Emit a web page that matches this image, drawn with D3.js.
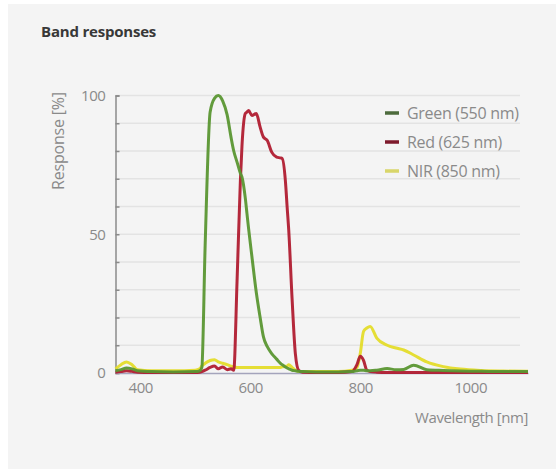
<!DOCTYPE html>
<html>
<head>
<meta charset="utf-8">
<script src="https://cdn.jsdelivr.net/npm/d3@7"></script>
<style>
  html, body { margin: 0; padding: 0; background: #ffffff; }
  svg { display: block; font-family: "Open Sans", "DejaVu Sans", sans-serif; }
</style>
</head>
<body>
<svg id="chart" width="556" height="476"></svg>
<script>
// ---- data ----
const wavelengths = [355, 365, 375, 385, 395, 420, 460, 500, 508, 512, 518, 527, 535, 542, 550, 558, 565, 570, 576, 582, 585, 591, 594, 597, 603, 611, 618, 624, 631, 639, 648, 655, 658, 664, 667, 670, 676, 682, 688, 695, 720, 760, 785, 794, 800, 806, 812, 818, 830, 849, 865, 879, 897, 921, 951, 982, 1020, 1060, 1105];
const greenValues = [0.8, 1.2, 1.8, 1.5, 0.8, 0.5, 0.4, 0.5, 0.8, 2, 46, 94, 99, 100, 98, 93, 85, 80, 76, 72, 70.6, 63, 57.5, 52, 42, 29, 20, 13, 9.5, 7, 5, 3.5, 3, 2.2, 1.8, 1.5, 1, 0.8, 0.6, 0.5, 0.4, 0.4, 0.5, 0.8, 1, 1, 0.8, 0.8, 1, 1.6, 1.2, 1.3, 2.8, 1.2, 0.9, 0.7, 0.6, 0.5, 0.5];
const redValues = [0.3, 0.5, 0.8, 0.6, 0.3, 0.2, 0.2, 0.2, 0.3, 0.5, 1.0, 2.0, 2.5, 1.5, 2.2, 1.2, 1.5, 1, 33, 69, 82, 93.5, 94, 94.6, 92.8, 93.5, 88.6, 85, 83.8, 79.6, 77.8, 77.5, 77.3, 69, 60, 51.4, 27, 7, 1, 0.3, 0.2, 0.2, 0.5, 3, 6, 4.5, 1, 0.5, 0.3, 0.2, 0.2, 0.2, 0.2, 0.2, 0.2, 0.2, 0.2, 0.2, 0.2];
const nirValues = [1.5, 3, 4, 3, 1.2, 0.8, 0.8, 1, 1.5, 2.5, 3.5, 4.5, 4.8, 4, 3.5, 3, 2.5, 2.2, 2, 2, 2, 2, 2, 2, 2, 2, 2, 2, 2, 2, 2, 2, 2.2, 2.4, 2.5, 3, 2, 1, 0.6, 0.5, 0.5, 0.5, 1, 2, 7, 15, 16.2, 16.8, 12.6, 10, 9, 8.3, 6.5, 4, 2.3, 1.4, 0.9, 0.7, 0.6];
const seriesNames = ["Green (550 nm)", "Red (625 nm)", "NIR (850 nm)"];
const xTicks = [400, 600, 800, 1000];
const yTicks = [0, 10, 20, 30, 40, 50, 60, 70, 80, 90, 100];
const yLabelTicks = [0, 50, 100];

// ---- chart ----
const svg = d3.select("#chart");
svg.append("rect").attr("x", 8).attr("y", 4).attr("width", 548).attr("height", 465).attr("fill", "#f4f4f4");

const x = d3.scaleLinear().domain([355, 1105]).range([115.5, 528]);
const y = d3.scaleLinear().domain([0, 100]).range([373, 95.5]);

svg.append("text").attr("x", 41).attr("y", 37)
  .attr("font-size", 15).attr("font-weight", "bold").attr("fill", "#383838")
  .attr("letter-spacing", -0.2).text("Band responses");

// gridlines
svg.append("g").selectAll("line").data(yTicks.filter(d => d > 0)).join("line")
  .attr("x1", x(355)).attr("x2", 520)
  .attr("y1", d => y(d)).attr("y2", d => y(d))
  .attr("stroke", "#e3e3e3").attr("stroke-width", 1.5);

// y axis
const yAxis = svg.append("g").attr("transform", `translate(${x(355)},0)`)
  .call(d3.axisLeft(y).tickValues(yTicks).tickSize(-4).tickPadding(10)
    .tickFormat(d => yLabelTicks.includes(d) ? d : ""));
yAxis.select(".domain").attr("stroke", "#8a8a8a").attr("stroke-width", 1.5);
yAxis.selectAll(".tick line").attr("stroke", "#8a8a8a").attr("stroke-width", 1.5);
yAxis.selectAll("text").attr("font-size", 15).attr("fill", "#8a8a8a")
  .attr("font-family", "'Open Sans', sans-serif").attr("letter-spacing", -0.4);

// x axis
const xAxis = svg.append("g").attr("transform", `translate(0,${y(0)})`)
  .call(d3.axisBottom(x).tickValues(xTicks).tickSize(0).tickPadding(9).tickFormat(d3.format("d")));
xAxis.select(".domain").attr("stroke", "#a4a4bc").attr("stroke-width", 1.5);
xAxis.selectAll("text").attr("font-size", 15).attr("fill", "#8a8a8a")
  .attr("font-family", "'Open Sans', sans-serif").attr("letter-spacing", -0.4);

// axis titles
svg.append("text").attr("transform", "translate(64,141) rotate(-90)")
  .attr("text-anchor", "middle").attr("font-size", 16).attr("fill", "#8a8a8a")
  .attr("letter-spacing", -0.2).text("Response [%]");
svg.append("text").attr("x", 528).attr("y", 423)
  .attr("text-anchor", "end").attr("font-size", 15).attr("fill", "#8a8a8a")
  .attr("letter-spacing", -0.4).text("Wavelength [nm]");

// lines
const line = d3.line().x((d, i) => x(wavelengths[i])).y(d => y(d)).curve(d3.curveMonotoneX);
const series = [
  { name: seriesNames[2], values: nirValues, color: "#e4dc2a", legend: "#d9d66a" },
  { name: seriesNames[1], values: redValues, color: "#b01c30", legend: "#7e1a2c" },
  { name: seriesNames[0], values: greenValues, color: "#5a9632", legend: "#4d6b3c" }
];
svg.append("g").selectAll("path").data(series).join("path")
  .attr("d", d => line(d.values)).attr("fill", "none")
  .attr("stroke", d => d.color).attr("stroke-width", 3)
  .attr("stroke-linejoin", "round").attr("opacity", 0.95);

// legend
const legendOrder = [series[2], series[1], series[0]];
const lg = svg.append("g").selectAll("g").data(legendOrder).join("g")
  .attr("transform", (d, i) => `translate(385,${113 + i * 29})`);
lg.append("line").attr("x1", 0).attr("x2", 14).attr("y1", 0).attr("y2", 0)
  .attr("stroke", d => d.legend).attr("stroke-width", 3.5);
lg.append("text").attr("x", 22).attr("dy", "0.35em").attr("font-size", 16)
  .attr("fill", "#8a8a8a").attr("letter-spacing", -0.3).text(d => d.name);
</script>
</body>
</html>
